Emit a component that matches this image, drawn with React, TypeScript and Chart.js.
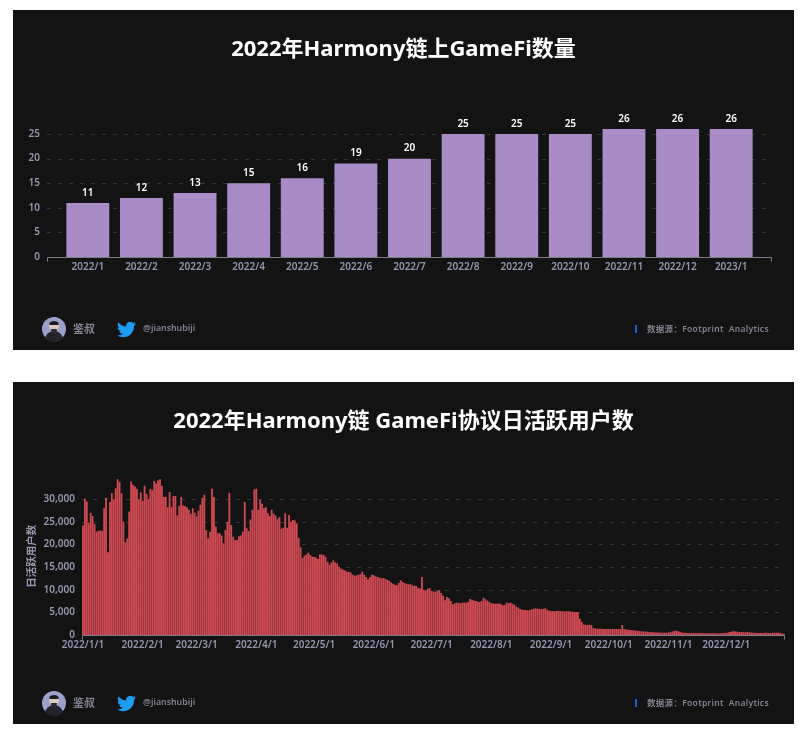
import Chart from 'chart.js/auto';
import { useEffect, useRef } from 'react';

const FONT = '"Noto Sans", "Noto Sans CJK SC", sans-serif';

const monthLabels = ['2022/1', '2022/2', '2022/3', '2022/4', '2022/5', '2022/6', '2022/7', '2022/8', '2022/9', '2022/10', '2022/11', '2022/12', '2023/1'];
const gameCounts = [11, 12, 13, 15, 16, 19, 20, 25, 25, 25, 26, 26, 26];

const dauJan = [24200, 30100, 29500, 24800, 27000, 26300, 24500, 22800, 23000, 23100, 23000, 28000, 30300, 18300, 29400, 31300, 30000, 32400, 34400, 33800, 31300, 25000, 20500, 21300, 27300, 33900, 33200, 32800, 32300, 30000, 31500];
const dauFeb = [29600, 33000, 31200, 30000, 32300, 32000, 34000, 33500, 34200, 34400, 33000, 30500, 30500, 28200, 31600, 28300, 30700, 30700, 26400, 28500, 30500, 28600, 28500, 28200, 27700, 26800, 28000, 27000];
const dauMar = [26200, 27500, 28800, 30300, 31000, 23200, 21400, 22800, 32300, 30500, 24000, 22500, 22500, 22000, 20300, 23200, 25000, 31400, 24300, 21700, 21000, 21000, 21800, 22000, 22800, 29400, 23600, 23000, 25500, 27700, 32200];
const dauApr = [32300, 27700, 29900, 29000, 28000, 28200, 26900, 26300, 27700, 26800, 26400, 25600, 26000, 23500, 23700, 26900, 23700, 26500, 25000, 25400, 25300, 24700, 21500, 19400, 17000, 17500, 17800, 18200, 17700, 17300];
const dauMay = [17300, 17100, 16800, 17800, 17800, 17700, 17300, 16200, 15500, 16000, 16500, 16100, 15800, 15000, 14700, 14500, 14300, 14000, 14000, 13800, 13300, 13100, 13200, 13300, 13400, 14000, 13300, 12800, 12300, 12800, 13300];
const dauJun = [13200, 13000, 12800, 12700, 12500, 12600, 12400, 12200, 12000, 11600, 11300, 11100, 11000, 11500, 12100, 11700, 11500, 11300, 11200, 11200, 11000, 10900, 10800, 10400, 10300, 12800, 10000, 9800, 10200, 10400];
const dauJul = [9800, 9600, 9500, 9700, 9950, 9300, 8700, 7700, 8400, 8100, 7500, 6800, 7000, 7150, 7100, 7000, 7100, 7200, 7100, 7300, 7950, 7800, 7600, 7500, 7400, 7300, 7500, 8250, 7900, 7600, 7300];
const dauAug = [7000, 6950, 6900, 6900, 6950, 6800, 6600, 6700, 7200, 7000, 7100, 6900, 6700, 6250, 6000, 5750, 5600, 5550, 5500, 5400, 5500, 5700, 5800, 5900, 5800, 5800, 5700, 5800, 5900, 5600, 5400];
const dauSep = [5300, 5300, 5250, 5300, 5350, 5300, 5250, 5200, 5250, 5250, 5200, 5150, 5100, 5100, 5000, 3600, 2900, 2300, 2250, 2200, 2250, 2200, 1500, 1450, 1400, 1400, 1400, 1350, 1300, 1300];
const dauOct = [1300, 1300, 1300, 1300, 1350, 1300, 1250, 2200, 1300, 1200, 1150, 1100, 1050, 1000, 950, 950, 900, 850, 800, 750, 700, 650, 600, 600, 550, 550, 550, 500, 500, 500, 500];
const dauNov = [550, 650, 800, 950, 950, 850, 700, 550, 500, 480, 450, 450, 420, 420, 430, 450, 450, 420, 400, 400, 380, 380, 400, 380, 370, 370, 380, 400, 420, 450];
const dauDec = [500, 550, 650, 750, 810, 780, 720, 680, 650, 620, 620, 650, 590, 560, 500, 480, 450, 440, 440, 450, 470, 480, 460, 430, 470, 520, 520, 500, 450, 350, 200];
const dauTicks = [0, 5000, 10000, 15000, 20000, 25000, 30000];

const dauByMonth = [dauJan, dauFeb, dauMar, dauApr, dauMay, dauJun, dauJul, dauAug, dauSep, dauOct, dauNov, dauDec];
const dayLabels = dauByMonth.flatMap((month, m) => month.map((_, d) => `2022/${m + 1}/${d + 1}`));
const dauValues = dauByMonth.flat();

const TICK_COLOR = '#9498ae';
const AXIS_COLOR = '#7c7d88';
const GRID_COLOR = 'rgba(255,255,255,0.14)';
const tickFont = { family: FONT, size: 10, weight: 600 };

// dashed grid and the base line, which stick out past the bars on both sides
const framePlugin = {
  id: 'frame',
  beforeDatasetsDraw(chart: any, _args: any, opts: any) {
    const { ctx, chartArea, scales } = chart;
    const left = chartArea.left - opts.overhang;
    const right = chartArea.right + opts.overhang;
    ctx.save();
    ctx.strokeStyle = GRID_COLOR;
    ctx.setLineDash([4, 7]);
    scales.y.ticks.forEach((tick: any) => {
      if (tick.value === 0) return;
      const y = Math.round(scales.y.getPixelForValue(tick.value)) + 0.5;
      ctx.beginPath();
      ctx.moveTo(left, y);
      ctx.lineTo(right, y);
      ctx.stroke();
    });
    ctx.restore();
  },
  afterDatasetsDraw(chart: any, _args: any, opts: any) {
    const { ctx, chartArea, scales } = chart;
    const left = chartArea.left - opts.overhang;
    const right = chartArea.right + opts.overhang;
    const y = Math.round(scales.y.getPixelForValue(0)) + 0.5;
    ctx.save();
    ctx.strokeStyle = AXIS_COLOR;
    ctx.beginPath();
    ctx.moveTo(left + 0.5, y + 4);
    ctx.lineTo(left + 0.5, y);
    ctx.lineTo(right - 0.5, y);
    ctx.lineTo(right - 0.5, y + 4);
    ctx.stroke();
    ctx.restore();
  },
};

const valueLabelPlugin = {
  id: 'valueLabels',
  afterDatasetsDraw(chart: any) {
    const { ctx } = chart;
    const values = chart.data.datasets[0].data;
    ctx.save();
    ctx.fillStyle = '#ffffff';
    ctx.font = `600 10px ${FONT}`;
    ctx.textAlign = 'center';
    ctx.textBaseline = 'middle';
    chart.getDatasetMeta(0).data.forEach((bar: any, i: number) => {
      ctx.fillText(String(values[i]), bar.x, bar.y - 10);
    });
    ctx.restore();
  },
};

function GameCountChart() {
  const chartRef = useRef<HTMLCanvasElement>(null);

  useEffect(() => {
    const canvas = chartRef.current;
    if (!canvas) return;
    const chart = new Chart(canvas, {
      type: 'bar',
      data: {
        labels: monthLabels,
        datasets: [{ data: gameCounts, backgroundColor: '#a98bc8', barPercentage: 0.8, categoryPercentage: 1 }],
      },
      options: {
        responsive: false,
        animation: false,
        layout: { padding: { left: 0, right: 36, top: 114.2, bottom: 73 } },
        plugins: {
          legend: { display: false },
          tooltip: { enabled: false },
          frame: { overhang: 14 },
        } as any,
        scales: {
          x: {
            grid: { display: false, drawTicks: false },
            border: { display: false },
            afterFit: (s: any) => { s.height = 20; },
            ticks: { color: TICK_COLOR, font: tickFont, padding: 4, maxRotation: 0, autoSkip: false },
          },
          y: {
            min: 0,
            max: 27,
            grid: { display: false, drawTicks: false },
            border: { display: false },
            afterFit: (s: any) => { s.width = 48; },
            ticks: { color: TICK_COLOR, font: tickFont, padding: 21, stepSize: 5, includeBounds: false },
          },
        },
      },
      plugins: [framePlugin, valueLabelPlugin],
    });
    return () => chart.destroy();
  }, []);

  return <canvas ref={chartRef} width={781} height={340} style={{ display: 'block' }} />;
}

function DailyUsersChart() {
  const chartRef = useRef<HTMLCanvasElement>(null);

  useEffect(() => {
    const canvas = chartRef.current;
    if (!canvas) return;
    const chart = new Chart(canvas, {
      type: 'bar',
      data: {
        labels: dayLabels,
        datasets: [{ data: dauValues, backgroundColor: '#d04a53', barPercentage: 0.94, categoryPercentage: 1 }],
      },
      options: {
        responsive: false,
        animation: false,
        layout: { padding: { left: 0, right: 9, top: 95.5, bottom: 69 } },
        plugins: {
          legend: { display: false },
          tooltip: { enabled: false },
          frame: { overhang: 0 },
        } as any,
        scales: {
          x: {
            grid: { display: false, drawTicks: false },
            border: { display: false },
            afterFit: (s: any) => { s.height = 20; },
            ticks: {
              color: TICK_COLOR,
              font: tickFont,
              padding: 4,
              maxRotation: 0,
              autoSkip: false,
              callback(this: any, value: any) {
                const label = this.getLabelForValue(value);
                return /\/1$/.test(label) ? label : '';
              },
            },
          },
          y: {
            min: 0,
            max: 34800,
            grid: { display: false, drawTicks: false },
            border: { display: false },
            afterFit: (s: any) => { s.width = 69; },
            afterBuildTicks: (s: any) => { s.ticks = dauTicks.map((value) => ({ value })); },
            title: {
              display: true,
              text: '日活跃用户数',
              color: TICK_COLOR,
              font: { family: FONT, size: 10.5, weight: 700 },
              padding: { top: 12.5, bottom: 0 },
            },
            ticks: {
              color: TICK_COLOR,
              font: tickFont,
              padding: 7,
              callback: (value: any) => Number(value).toLocaleString('en-US'),
            },
          },
        },
      },
      plugins: [framePlugin],
    });
    return () => chart.destroy();
  }, []);

  return <canvas ref={chartRef} width={781} height={342} style={{ display: 'block' }} />;
}

const titleStyle = {
  position: 'absolute',
  left: 0,
  right: 0,
  top: 23,
  textAlign: 'center',
  fontFamily: FONT,
  fontSize: 22,
  fontWeight: 700,
  lineHeight: '28px',
  color: '#ffffff',
  whiteSpace: 'pre',
} as const;

const footText = { position: 'absolute', fontFamily: FONT, color: '#80828e', lineHeight: '14px', whiteSpace: 'pre', fontWeight: 600 } as const;

function Footer() {
  return (
    <>
      <svg width="26" height="26" viewBox="0 0 26 26" style={{ position: 'absolute', left: 28, bottom: 8 }}>
        <circle cx="13" cy="13" r="12" fill="#9aa0c8" />
        <path d="M4 22c2-5 5-7 9-7s7 2 9 7a12 12 0 0 1-18 0z" fill="#23232b" />
        <circle cx="13" cy="10" r="5" fill="#d8c8bd" />
        <path d="M8 8c1-4 9-4 10 0l-1 1H9z" fill="#1b1b20" />
        <path d="M10 13h6l-1 5h-4z" fill="#2b2b30" />
      </svg>
      <div style={{ ...footText, left: 60, bottom: 14, fontSize: 11 }}>鉴叔</div>
      <svg width="19" height="19" viewBox="0 0 24 24" style={{ position: 'absolute', left: 103.5, bottom: 11 }}>
        <path
          fill="#1d9bf0"
          d="M23.953 4.57a10 10 0 01-2.825.775 4.958 4.958 0 002.163-2.723c-.951.555-2.005.959-3.127 1.184a4.92 4.92 0 00-8.384 4.482C7.69 8.095 4.067 6.13 1.64 3.162a4.822 4.822 0 00-.666 2.475c0 1.71.87 3.213 2.188 4.096a4.904 4.904 0 01-2.228-.616v.06a4.923 4.923 0 003.946 4.827 4.996 4.996 0 01-2.212.085 4.936 4.936 0 004.604 3.417 9.867 9.867 0 01-6.102 2.105c-.39 0-.779-.023-1.17-.067a13.995 13.995 0 007.557 2.209c9.053 0 13.998-7.496 13.998-13.985 0-.21 0-.42-.015-.63A9.935 9.935 0 0024 4.59z"
        />
      </svg>
      <div style={{ ...footText, left: 130, bottom: 15, fontSize: 8.8 }}>@jianshubiji</div>
      <div style={{ position: 'absolute', left: 621.5, bottom: 17, width: 2, height: 8, background: '#1a5fd0' }} />
      <div style={{ ...footText, left: 634, bottom: 14, fontSize: 8.5, letterSpacing: 0.3 }}>数据源：Footprint  Analytics</div>
    </>
  );
}

const panelStyle = { position: 'absolute', left: 13, width: 781, background: '#131314' } as const;

export default function App() {
  return (
    <div style={{ position: 'absolute', left: 0, top: 0, width: 799, height: 730, background: '#ffffff' }}>
      <div style={{ ...panelStyle, top: 10, height: 340 }}>
        <GameCountChart />
        <div style={titleStyle}>2022年Harmony链上GameFi数量</div>
        <Footer />
      </div>
      <div style={{ ...panelStyle, top: 382, height: 342 }}>
        <DailyUsersChart />
        <div style={titleStyle}>2022年Harmony链 GameFi协议日活跃用户数</div>
        <Footer />
      </div>
    </div>
  );
}
